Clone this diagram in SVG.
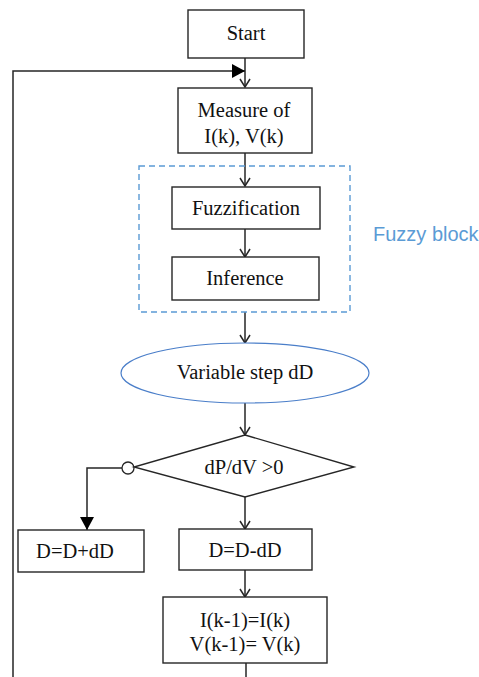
<svg xmlns="http://www.w3.org/2000/svg" width="479" height="677" viewBox="0 0 479 677">
  <style>
    .box { fill: #fff; stroke: #262626; stroke-width: 1.4; }
    .lbl { font-family: "Liberation Serif", "Times New Roman", serif; font-size: 20.5px; fill: #111; text-anchor: middle; }
    .wire { fill: none; stroke: #262626; stroke-width: 1.5; }
    .blue { font-family: "Liberation Sans", Arial, sans-serif; font-size: 20px; fill: #5b9bd5; }
  </style>
  <defs>
    <!-- open chevron head, drawn along +x so orient="auto" follows the line -->
    <marker id="open" markerUnits="userSpaceOnUse" markerWidth="10" markerHeight="12" viewBox="0 0 10 12" refX="9" refY="6" orient="auto">
      <path d="M1,1 L9,6 L1,11" fill="none" stroke="#262626" stroke-width="1.5"/>
    </marker>
    <marker id="solidDown" markerUnits="userSpaceOnUse" markerWidth="14" markerHeight="13" viewBox="0 0 14 13" refX="7" refY="13" orient="0">
      <path d="M0,0 L14,0 L7,13 Z" fill="#000"/>
    </marker>
    <marker id="solidRight" markerUnits="userSpaceOnUse" markerWidth="13" markerHeight="14" viewBox="0 0 13 14" refX="13" refY="7" orient="0">
      <path d="M0,0 L13,7 L0,14 Z" fill="#000"/>
    </marker>
  </defs>

  <g id="connectors">
    <line class="wire" x1="245" y1="58" x2="245" y2="87" marker-end="url(#open)"/>
    <polyline class="wire" points="13,677 13,71 245,71" marker-end="url(#solidRight)"/>
    <line class="wire" x1="245" y1="153" x2="245" y2="186" marker-end="url(#open)"/>
    <line class="wire" x1="245" y1="229" x2="245" y2="257" marker-end="url(#open)"/>
    <line class="wire" x1="245" y1="312" x2="245" y2="343" marker-end="url(#open)"/>
    <line class="wire" x1="245" y1="403" x2="245" y2="435" marker-end="url(#open)"/>
    <line class="wire" x1="245" y1="497" x2="245" y2="529" marker-end="url(#open)"/>
    <line class="wire" x1="245" y1="570" x2="245" y2="597" marker-end="url(#open)"/>
    <line class="wire" x1="246" y1="663" x2="246" y2="677"/>
    <polyline class="wire" points="122,468 87,468 87,530" marker-end="url(#solidDown)"/>
    <circle cx="128" cy="468" r="6" fill="#fff" stroke="#262626" stroke-width="1.3"/>
  </g>

  <g id="start">
    <rect class="box" x="188" y="10" width="116" height="48"/>
    <text class="lbl" x="246" y="40">Start</text>
  </g>

  <g id="measure">
    <rect class="box" x="178" y="88" width="134" height="65"/>
    <text class="lbl" x="244" y="117">Measure of</text>
    <text class="lbl" x="244" y="143">I(k), V(k)</text>
  </g>

  <g id="fuzzy-block">
    <rect x="139" y="166" width="211" height="146" fill="none" stroke="#5b9bd5" stroke-width="1.4" stroke-dasharray="6,4"/>
    <text class="blue" x="373" y="241">Fuzzy block</text>
  </g>

  <g id="fuzzification">
    <rect class="box" x="172" y="187" width="148" height="42"/>
    <text class="lbl" x="246" y="215">Fuzzification</text>
  </g>

  <g id="inference">
    <rect class="box" x="172" y="257" width="147" height="43"/>
    <text class="lbl" x="245" y="285">Inference</text>
  </g>

  <g id="variable-step">
    <ellipse cx="245" cy="373" rx="124" ry="30" fill="#fff" stroke="#4a7ec9" stroke-width="1.2"/>
    <text class="lbl" x="245" y="379">Variable step dD</text>
  </g>

  <g id="decision">
    <polygon class="box" points="245,435 354,467 245,497 134,467"/>
    <text class="lbl" x="244" y="474">dP/dV &gt;0</text>
  </g>

  <g id="increase">
    <rect class="box" x="18" y="530" width="126" height="42"/>
    <text class="lbl" x="75" y="558">D=D+dD</text>
  </g>

  <g id="decrease">
    <rect class="box" x="179" y="529" width="133" height="41"/>
    <text class="lbl" x="245" y="557">D=D-dD</text>
  </g>

  <g id="update">
    <rect class="box" x="163" y="597" width="164" height="66"/>
    <text class="lbl" x="245" y="627">I(k-1)=I(k)</text>
    <text class="lbl" x="245" y="651">V(k-1)= V(k)</text>
  </g>
</svg>
